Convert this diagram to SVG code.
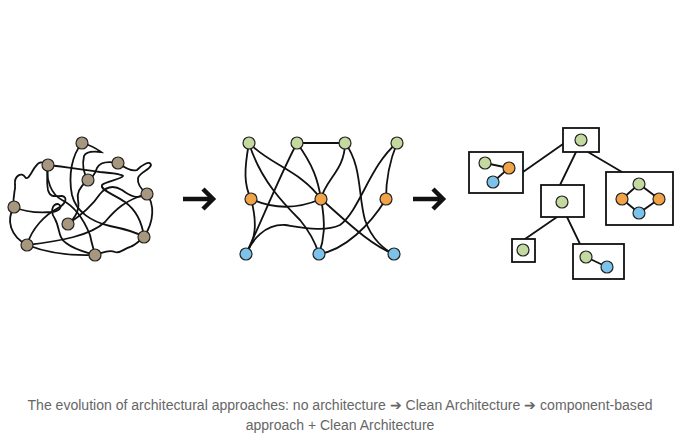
<svg xmlns="http://www.w3.org/2000/svg" width="680" height="434" viewBox="0 0 680 434">
<style>
.e{fill:none;stroke:#111;stroke-width:1.8;stroke-linecap:round}
.n{stroke:#222;stroke-width:1.2}
.br{fill:#a8977f}
.gr{fill:#c4d9a0}
.or{fill:#f0a348}
.bl{fill:#7cc3ec}
.box{fill:#fff;stroke:#111;stroke-width:1.8}
.arr{fill:none;stroke:#111;stroke-width:4.5;stroke-linecap:butt}
.cap{font-family:"Liberation Sans",Arial,sans-serif;font-size:14px;fill:#666}
</style>
<rect width="680" height="434" fill="#fff"/>
<g id="connectors">
<path class="e" d="M82,143 C90,145 97,149 101,152 C93,151 86,151 84,156 C82,165 84,174 88,180"/>
<path class="e" d="M82,143 C72,155 68,175 72,195 C76,212 92,222 110,226 C125,229 136,232 144,237"/>
<path class="e" d="M48,165 C67,167 83,170 100,172 C112,173 122,174 123,176 C120,180 106,181 102,185 C100,190 113,194 125,202 C136,210 142,222 144,237"/>
<path class="e" d="M118,163 C108,161 100,162 97,168 C95,174 92,178 88,180"/>
<path class="e" d="M118,163 C125,168 132,172 137,170 C142,165 150,160 151,165 C150,170 140,172 138,178 C137,185 142,190 147,194"/>
<path class="e" d="M147,194 C154,204 155,220 144,237"/>
<path class="e" d="M147,194 C138,200 130,196 122,190 C112,184 105,188 100,194 C92,206 80,216 68,224"/>
<path class="e" d="M14,207 C12,195 16,190 15,185 C14,175 22,172 25,177 C28,182 32,170 36,166 C40,160 44,163 48,165"/>
<path class="e" d="M14,207 C6,220 10,236 27,245"/>
<path class="e" d="M14,207 C25,212 40,213 52,212 C60,211 63,206 58,204 C52,204 50,212 55,219 C60,228 58,238 66,243 C75,250 85,252 95,255"/>
<path class="e" d="M27,245 C45,252 70,256 95,255"/>
<path class="e" d="M27,245 C60,241 90,236 105,222 C115,210 125,200 147,194"/>
<path class="e" d="M27,245 C32,228 45,215 58,208 C66,204 68,197 62,196 C55,196 50,198 48,190 C46,180 48,172 48,165"/>
<path class="e" d="M95,255 C105,252 110,250 115,252 C120,254 125,248 130,247 C136,245 140,240 144,237"/>
<path class="e" d="M68,224 C75,218 80,210 78,200 C76,192 82,185 88,180"/>
<path class="e" d="M48,165 C45,180 52,195 62,200 C72,205 82,215 90,235 C92,245 94,250 95,255"/>
<path class="e" d="M297,143 L345,143"/>
<path class="e" d="M249,143 C244,170 244,185 251,199"/>
<path class="e" d="M249,143 C270,165 300,170 321,199"/>
<path class="e" d="M249,143 C260,180 285,205 300,220 C310,232 316,245 319,254"/>
<path class="e" d="M297,143 C280,175 262,220 246,254"/>
<path class="e" d="M297,143 C313,165 318,180 321,199"/>
<path class="e" d="M345,143 C345,170 325,180 321,199"/>
<path class="e" d="M345,143 C362,165 358,195 365,220 C372,240 385,250 394,254"/>
<path class="e" d="M397,143 C370,165 360,210 340,225 C325,232 305,228 285,225 C265,224 252,240 246,254"/>
<path class="e" d="M397,143 C388,165 386,185 386,199"/>
<path class="e" d="M251,199 C275,210 300,208 321,199"/>
<path class="e" d="M251,199 C258,225 255,240 246,254"/>
<path class="e" d="M321,199 C326,225 324,240 319,254"/>
<path class="e" d="M321,199 C345,220 370,245 394,254"/>
<path class="e" d="M386,199 C370,225 345,250 319,254"/>
<path class="e" d="M563,144 L523,172"/>
<path class="e" d="M576,152 L560,185"/>
<path class="e" d="M588,152 L622,172"/>
<path class="e" d="M557,217 L525,239"/>
<path class="e" d="M567,217 L580,244"/>
<path class="arr" d="M183,199 H212 M203,189 L213,199 L203,209"/>
<path class="arr" d="M413,199 H442 M433,189 L443,199 L433,209"/>
</g>
<g id="tangle-nodes">
<circle class="n br" cx="82" cy="143" r="6"/>
<circle class="n br" cx="48" cy="165" r="6"/>
<circle class="n br" cx="118" cy="163" r="6"/>
<circle class="n br" cx="88" cy="180" r="6"/>
<circle class="n br" cx="147" cy="194" r="6"/>
<circle class="n br" cx="14" cy="207" r="6"/>
<circle class="n br" cx="68" cy="224" r="6"/>
<circle class="n br" cx="144" cy="237" r="6"/>
<circle class="n br" cx="27" cy="245" r="6"/>
<circle class="n br" cx="95" cy="255" r="6"/>
</g>
<g id="clean-nodes">
<circle class="n gr" cx="249" cy="143" r="6"/>
<circle class="n gr" cx="297" cy="143" r="6"/>
<circle class="n gr" cx="345" cy="143" r="6"/>
<circle class="n gr" cx="397" cy="143" r="6"/>
<circle class="n or" cx="251" cy="199" r="6"/>
<circle class="n or" cx="321" cy="199" r="6"/>
<circle class="n or" cx="386" cy="199" r="6"/>
<circle class="n bl" cx="246" cy="254" r="6"/>
<circle class="n bl" cx="319" cy="254" r="6"/>
<circle class="n bl" cx="394" cy="254" r="6"/>
</g>
<g id="comp-top"><rect class="box" x="563" y="128" width="36" height="24"/><circle class="n gr" cx="581" cy="140" r="6"/></g>
<g id="comp-left"><rect class="box" x="469" y="152" width="54" height="41"/>
<path class="e" d="M485,163 L509,168 L493,182"/>
<circle class="n gr" cx="485" cy="163" r="6"/><circle class="n or" cx="509" cy="168" r="6"/><circle class="n bl" cx="493" cy="182" r="6"/></g>
<g id="comp-mid"><rect class="box" x="541" y="185" width="43" height="32"/><circle class="n gr" cx="562" cy="202" r="6"/></g>
<g id="comp-right"><rect class="box" x="606" y="172" width="67" height="53"/>
<path class="e" d="M639,184 L622,199 L639,213 L659,199 Z"/>
<circle class="n gr" cx="639" cy="184" r="6"/><circle class="n or" cx="622" cy="199" r="6"/><circle class="n or" cx="659" cy="199" r="6"/><circle class="n bl" cx="639" cy="213" r="6"/></g>
<g id="comp-small"><rect class="box" x="512" y="239" width="23" height="23"/><circle class="n gr" cx="523" cy="250" r="6"/></g>
<g id="comp-br"><rect class="box" x="573" y="244" width="51" height="35"/>
<path class="e" d="M586,257 L607,267"/>
<circle class="n gr" cx="586" cy="257" r="6"/><circle class="n bl" cx="607" cy="267" r="6"/></g>
<g id="caption">
<text class="cap" x="340" y="410" text-anchor="middle" textLength="625" lengthAdjust="spacingAndGlyphs">The evolution of architectural approaches: no architecture ➔ Clean Architecture ➔ component-based</text>
<text class="cap" x="340" y="430" text-anchor="middle">approach + Clean Architecture</text>
</g>
</svg>
